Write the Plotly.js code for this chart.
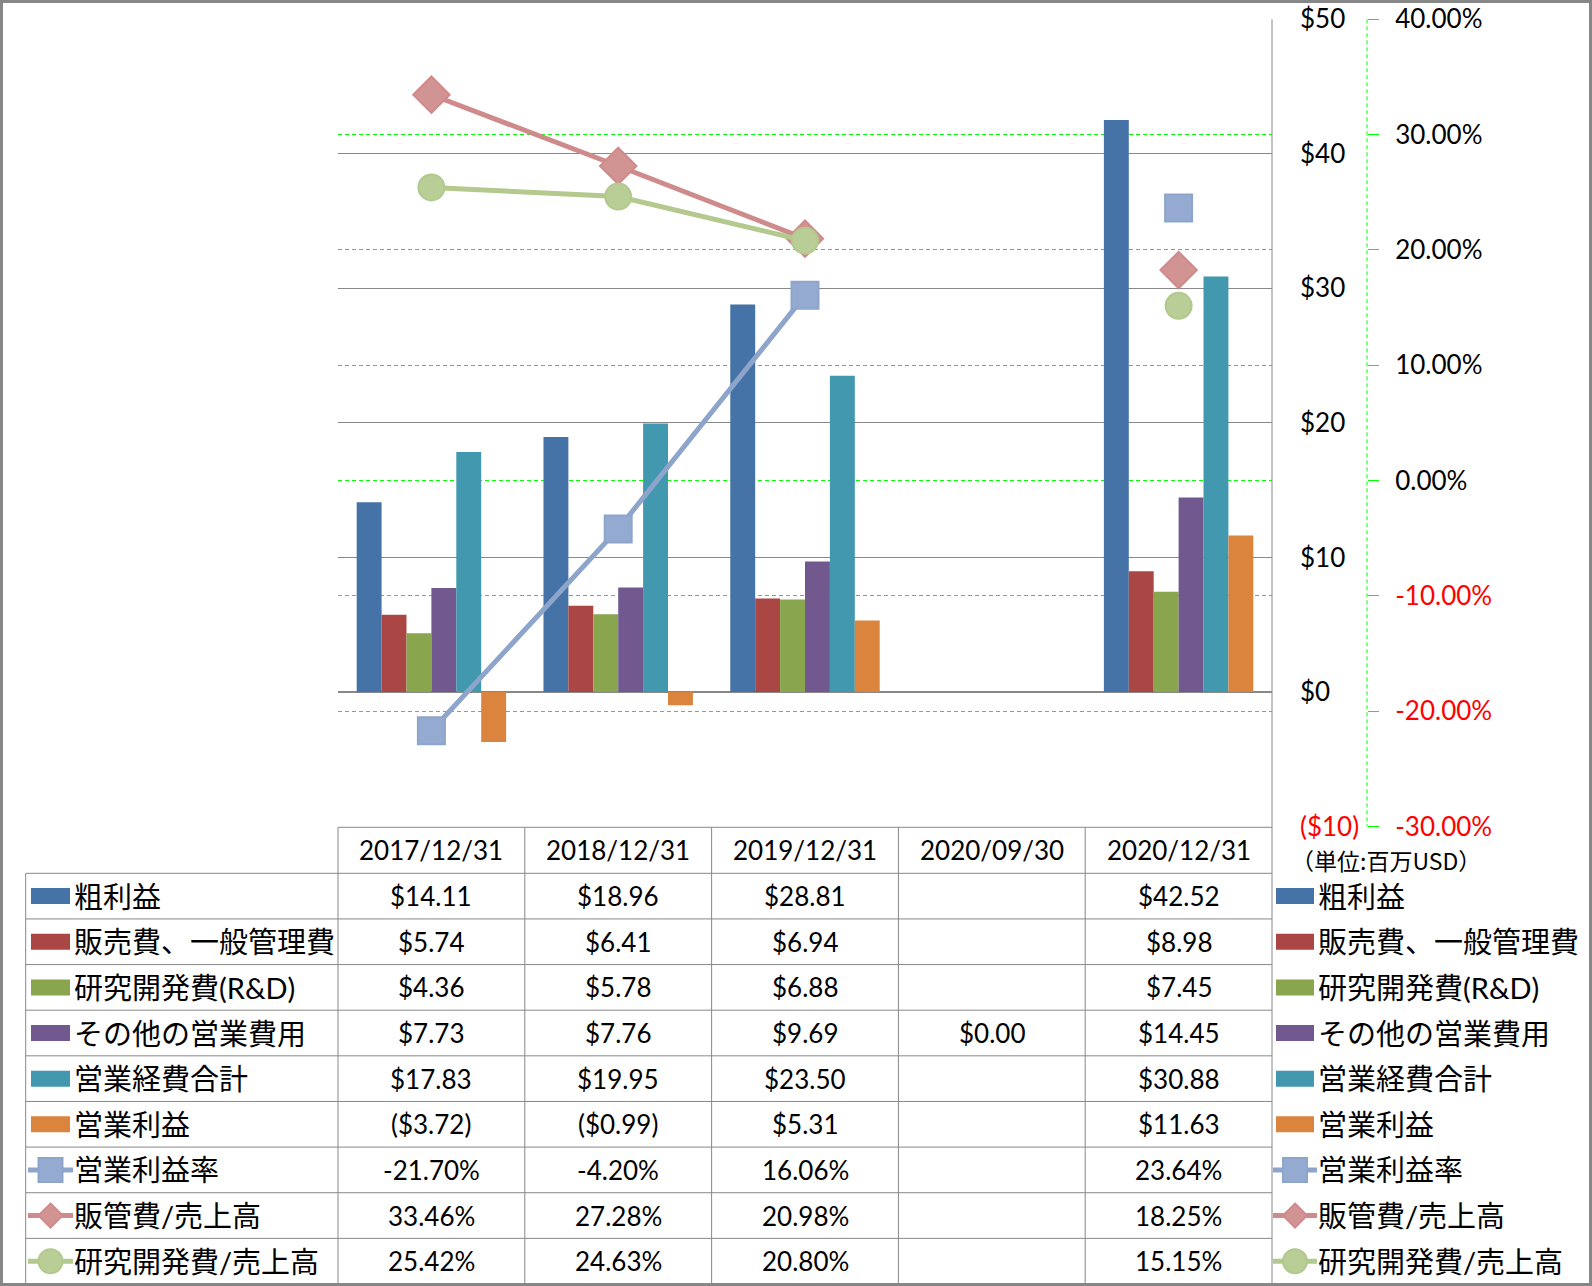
<!DOCTYPE html>
<html>
<head>
<meta charset="utf-8">
<script src="https://cdn.plot.ly/plotly-3.0.1.min.js"></script>
<style>
  body { margin: 0; background: #fff; }
</style>
</head>
<body>
<div id="chart"></div>
<script>
// categories (table header)
const categories = ['2017/12/31', '2018/12/31', '2019/12/31', '2020/09/30', '2020/12/31'];

// bar series, million USD
const grossProfit = [14.11, 18.96, 28.81, null, 42.52];
const sgaExpense = [5.74, 6.41, 6.94, null, 8.98];
const rndExpense = [4.36, 5.78, 6.88, null, 7.45];
const otherOpex = [7.73, 7.76, 9.69, 0.00, 14.45];
const totalOpex = [17.83, 19.95, 23.50, null, 30.88];
const opIncome = [-3.72, -0.99, 5.31, null, 11.63];

// line series, percent
const opMargin = [-21.70, -4.20, 16.06, null, 23.64];
const sgaRatio = [33.46, 27.28, 20.98, null, 18.25];
const rndRatio = [25.42, 24.63, 20.80, null, 15.15];

const barNames = ['粗利益', '販売費、一般管理費', '研究開発費(R&D)', 'その他の営業費用', '営業経費合計', '営業利益'];
const lineNames = ['営業利益率', '販管費/売上高', '研究開発費/売上高'];

const usdTicks = [-10, 0, 10, 20, 30, 40, 50];
const pctTicks = [-30, -20, -10, 0, 10, 20, 30, 40];

const barColors = ['#4572A7', '#AA4643', '#89A54E', '#71588F', '#4198AF', '#DB843D'];
const lineColors = ['#8EA5CB', '#CF8B8B', '#B3C98D'];
const markerFill = ['#95AAD0', '#D29393', '#B9CD97'];
const symbols = ['square', 'diamond', 'circle'];
const markerSizes = [27, 28, 26];

const barData = [grossProfit, sgaExpense, rndExpense, otherOpex, totalOpex, opIncome];
const lineData = [opMargin, sgaRatio, rndRatio];

const W = 1592, H = 1286;
const px = x => x / W;
const py = y => 1 - y / H;

const FONT = 'Lato, "Noto Sans CJK JP", sans-serif';
const RED = '#FF0000';
const GRID = '#888888';

function fmtUsd(v) {
    if (v === null) return '';
    if (v < 0) return '($' + Math.abs(v).toFixed(2) + ')';
    return '$' + v.toFixed(2);
}
function fmtPct(v) {
    if (v === null) return '';
    return v.toFixed(2) + '%';
}
function usdTick(v) {
    const t = v < 0 ? '($' + Math.abs(v) + ')' : '$' + v;
    return v < 0 ? '<span style="color:' + RED + '">' + t + '</span>' : t;
}
function pctTick(v) {
    const t = v.toFixed(2) + '%';
    return v < 0 ? '<span style="color:' + RED + '">' + t + '</span>' : t;
}

const traces = [];
barData.forEach((arr, i) => {
    traces.push({
        type: 'bar',
        name: barNames[i],
        x: categories,
        y: arr,
        marker: {color: barColors[i]},
        xaxis: 'x',
        yaxis: 'y'
    });
});
lineData.forEach((arr, i) => {
    traces.push({
        type: 'scatter',
        mode: 'lines+markers',
        name: lineNames[i],
        x: categories,
        y: arr,
        connectgaps: false,
        line: {color: lineColors[i], width: 5},
        marker: {symbol: symbols[i], size: markerSizes[i], color: markerFill[i],
                 line: {color: lineColors[i], width: 2}},
        xaxis: 'x',
        yaxis: 'y2'
    });
});

// table geometry
const tableLeft = 25.7, plotLeft = 338, plotRight = 1272;
const colW = (plotRight - plotLeft) / categories.length;
const headTop = 827.3, rowTop = 873.3, tableBottom = 1284;
const rowH = (tableBottom - rowTop) / 9;
const colCenter = j => plotLeft + colW * (j + 0.5);
const rowCenter = i => rowTop + rowH * (i + 0.5);

const shapes = [];
const annotations = [];

function line(x0, y0, x1, y1, color, width, dash) {
    shapes.push({type: 'line', xref: 'paper', yref: 'paper',
        x0: px(x0), y0: py(y0), x1: px(x1), y1: py(y1),
        line: {color: color, width: width, dash: dash || 'solid'}, layer: 'above'});
}

// outer frame
shapes.push({type: 'rect', xref: 'paper', yref: 'paper', x0: px(1.5), y0: py(H - 1.5), x1: px(W - 1.5), y1: py(1.5),
    line: {color: '#878787', width: 3}, layer: 'above'});

// right border of plot + table
line(plotRight, 19.3, plotRight, tableBottom, GRID, 1);
// secondary axis dashed line
line(1367, 19.3, 1367, 826.5, '#00FF00', 1, '4px,3px');

// table rules
line(plotLeft, headTop, plotRight, headTop, GRID, 1);
for (let i = 0; i <= 9; i++) line(tableLeft, rowTop + rowH * i, plotRight, rowTop + rowH * i, GRID, 1);
line(tableLeft, rowTop, tableLeft, tableBottom, GRID, 1);
for (let j = 0; j < categories.length; j++) line(plotLeft + colW * j, headTop, plotLeft + colW * j, tableBottom, GRID, 1);

// header
categories.forEach((c, j) => {
    annotations.push({xref: 'paper', yref: 'paper', x: px(colCenter(j)), y: py((headTop + rowTop) / 2),
        text: c, showarrow: false, xanchor: 'center', yanchor: 'middle', font: {family: FONT, size: 26, color: '#000'}});
});

// cells
const allNames = barNames.concat(lineNames);
const allData = barData.concat(lineData);
allData.forEach((arr, i) => {
    const fmt = i < barData.length ? fmtUsd : fmtPct;
    arr.forEach((v, j) => {
        const t = fmt(v);
        if (!t) return;
        annotations.push({xref: 'paper', yref: 'paper', x: px(colCenter(j)), y: py(rowCenter(i)),
            text: t, showarrow: false, xanchor: 'center', yanchor: 'middle', font: {family: FONT, size: 26, color: '#000'}});
    });
});

// legend keys (left inside table, right beside table)
function legendKey(i, cx, sx0, sx1, textX) {
    const yc = rowCenter(i);
    if (i < barData.length) {
        shapes.push({type: 'rect', xref: 'paper', yref: 'paper', x0: px(sx0), x1: px(sx1), y0: py(yc + 8), y1: py(yc - 8),
            fillcolor: barColors[i], line: {width: 0}, layer: 'above'});
    } else {
        const k = i - barData.length;
        line(sx0 - 3, yc, sx1 + 3, yc, lineColors[k], 5);
        const r = 12;
        const base = {xref: 'paper', yref: 'paper', fillcolor: markerFill[k], line: {color: lineColors[k], width: 2}, layer: 'above'};
        if (symbols[k] === 'square') {
            shapes.push(Object.assign({type: 'rect', x0: px(cx - r), x1: px(cx + r), y0: py(yc + r), y1: py(yc - r)}, base));
        } else if (symbols[k] === 'circle') {
            shapes.push(Object.assign({type: 'circle', x0: px(cx - r), x1: px(cx + r), y0: py(yc + r), y1: py(yc - r)}, base));
        } else {
            const d = 'M' + px(cx) + ',' + py(yc - r) + ' L' + px(cx + r) + ',' + py(yc) + ' L' + px(cx) + ',' + py(yc + r) + ' L' + px(cx - r) + ',' + py(yc) + ' Z';
            shapes.push(Object.assign({type: 'path', path: d}, base));
        }
    }
    annotations.push({xref: 'paper', yref: 'paper', x: px(textX), y: py(yc), text: allNames[i], showarrow: false,
        xanchor: 'left', yanchor: 'middle', font: {family: FONT, size: 29, color: '#000'}});
}
allNames.forEach((n, i) => {
    legendKey(i, 50.5, 31, 70, 72);
    legendKey(i, 1295, 1276, 1314, 1316);
});

// unit note
annotations.push({xref: 'paper', yref: 'paper', x: px(1386), y: py(860), text: '（単位:百万USD）', showarrow: false,
    xanchor: 'center', yanchor: 'middle', font: {family: '"Noto Sans CJK JP", sans-serif', size: 23, color: '#000'}});

const layout = {
    width: W,
    height: H,
    margin: {l: 0, r: 0, t: 0, b: 0, pad: 0},
    paper_bgcolor: '#fff',
    plot_bgcolor: '#fff',
    showlegend: false,
    barmode: 'group',
    bargap: 0.2,
    bargroupgap: 0,
    font: {family: FONT, size: 26, color: '#000'},
    xaxis: {
        type: 'category',
        domain: [px(plotLeft), px(plotRight)],
        showticklabels: false,
        showgrid: false,
        zeroline: false,
        showline: false,
        ticks: ''
    },
    yaxis: {
        domain: [py(826.5), py(19.3)],
        range: [-10, 50],
        side: 'right',
        anchor: 'x',
        tickvals: usdTicks,
        ticktext: usdTicks.map(usdTick),
        ticks: '',
        ticklabelstandoff: 27,
        showgrid: true,
        gridcolor: GRID,
        gridwidth: 1,
        zeroline: true,
        zerolinecolor: GRID,
        zerolinewidth: 1.5,
        showline: false,
        tickfont: {family: FONT, size: 26, color: '#000'}
    },
    yaxis2: {
        overlaying: 'y',
        side: 'right',
        anchor: 'free',
        position: px(1367),
        range: [-30, 40],
        tickvals: pctTicks,
        ticktext: pctTicks.map(pctTick),
        ticks: 'outside',
        ticklen: 11,
        tickcolor: '#00FF00',
        tickwidth: 1,
        ticklabelstandoff: 11,
        showgrid: true,
        gridcolor: '#00FF00',
        griddash: '4px,3px',
        gridwidth: 1,
        zeroline: false,
        showline: false,
        tickfont: {family: FONT, size: 26, color: '#000'}
    },
    shapes: shapes,
    annotations: annotations
};

Plotly.newPlot('chart', traces, layout, {displayModeBar: false, staticPlot: true});
</script>
</body>
</html>
